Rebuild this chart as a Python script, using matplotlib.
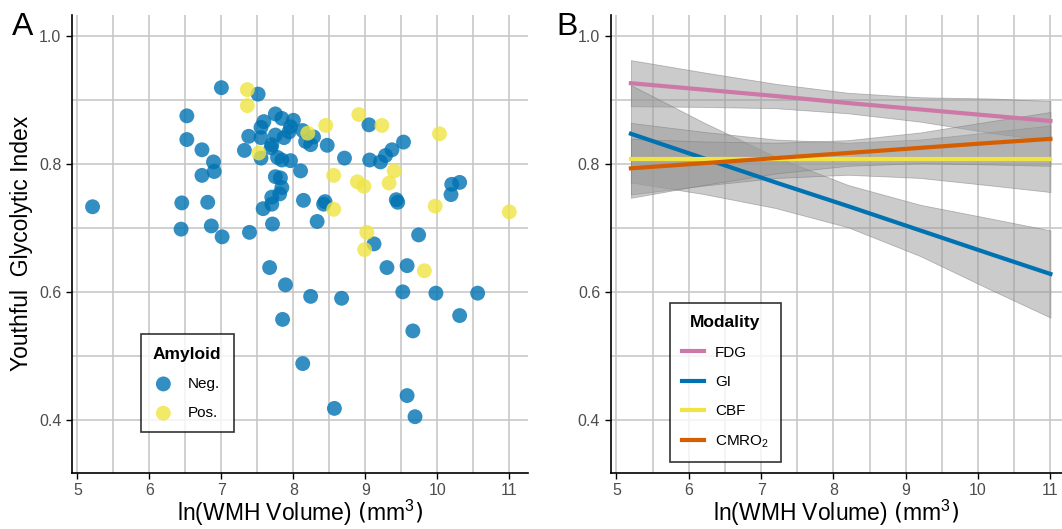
import matplotlib.pyplot as plt
from matplotlib.ticker import MultipleLocator
from matplotlib.lines import Line2D

plt.rcParams['font.family'] = ['Liberation Sans', 'DejaVu Sans']
plt.rcParams['mathtext.default'] = 'regular'

# ---- panel A: WMH volume vs youthful GI, split by amyloid status
neg_x = [5.21, 6.45, 6.44, 6.52, 6.52, 6.73, 6.73, 6.89, 6.90, 6.81, 6.86, 7.01, 7.00, 7.39,
         7.51, 7.32, 7.38, 7.55, 7.55, 7.59, 7.75, 7.84, 8.00, 7.96, 7.94, 7.87, 7.75, 7.70,
         7.69, 7.55, 7.78, 7.84, 7.96, 8.10, 7.75, 7.82, 7.84, 7.81, 7.70, 7.70, 7.58, 7.71,
         7.67, 7.89, 7.85, 8.13, 8.13, 8.28, 8.17, 8.24, 8.47, 8.14, 8.44, 8.42, 8.33, 8.71,
         9.05, 9.06, 9.21, 9.28, 9.37, 9.53, 9.43, 9.45, 9.12, 9.74, 9.30, 9.58, 8.24, 8.67,
         9.52, 9.98, 10.56, 10.31, 9.66, 9.58, 8.57, 9.69, 10.20, 10.31, 10.19]
neg_y = [0.733, 0.739, 0.698, 0.875, 0.838, 0.822, 0.782, 0.803, 0.788, 0.740, 0.703, 0.686,
         0.919, 0.693, 0.909, 0.821, 0.843, 0.841, 0.857, 0.866, 0.878, 0.871, 0.868, 0.858,
         0.850, 0.841, 0.845, 0.830, 0.825, 0.809, 0.810, 0.806, 0.805, 0.789, 0.780, 0.778,
         0.763, 0.753, 0.748, 0.737, 0.730, 0.706, 0.638, 0.611, 0.557, 0.488, 0.852, 0.842,
         0.835, 0.830, 0.829, 0.743, 0.741, 0.737, 0.710, 0.809, 0.861, 0.806, 0.803, 0.813,
         0.822, 0.834, 0.744, 0.740, 0.675, 0.689, 0.638, 0.641, 0.593, 0.590, 0.600, 0.598,
         0.598, 0.563, 0.539, 0.438, 0.418, 0.405, 0.768, 0.771, 0.752]
pos_x = [7.36, 7.36, 7.52, 8.20, 8.45, 8.56, 8.56, 8.91, 9.23, 10.03, 9.40, 8.89, 8.98,
         9.33, 9.97, 11.00, 9.02, 8.99, 9.82]
pos_y = [0.916, 0.891, 0.817, 0.848, 0.860, 0.782, 0.729, 0.877, 0.860, 0.847, 0.789, 0.772,
         0.765, 0.770, 0.734, 0.725, 0.693, 0.666, 0.633]

# ---- panel B: linear fits + 95% CI per modality
fit_x = [5.2, 6.2, 7.2, 8.2, 9.2, 10.2, 11.0]
modalities = ['FDG', 'GI', 'CBF', 'CMRO$_2$']
mod_colors = ['#CC79A7', '#0072B2', '#F0E442', '#D55E00']
fdg_fit = [0.926, 0.916, 0.906, 0.895, 0.885, 0.875, 0.867]
fdg_lo = [0.890, 0.889, 0.887, 0.879, 0.866, 0.848, 0.836]
fdg_hi = [0.962, 0.943, 0.925, 0.911, 0.904, 0.902, 0.898]
gi_fit = [0.847, 0.809, 0.771, 0.734, 0.696, 0.658, 0.628]
gi_lo = [0.771, 0.753, 0.731, 0.701, 0.656, 0.602, 0.560]
gi_hi = [0.923, 0.865, 0.811, 0.767, 0.736, 0.714, 0.696]
cbf_fit = [0.808, 0.808, 0.808, 0.808, 0.808, 0.808, 0.808]
cbf_lo = [0.752, 0.766, 0.778, 0.783, 0.778, 0.766, 0.756]
cbf_hi = [0.864, 0.850, 0.838, 0.833, 0.838, 0.850, 0.860]
cmro_fit = [0.793, 0.801, 0.809, 0.817, 0.825, 0.833, 0.839]
cmro_lo = [0.747, 0.767, 0.785, 0.797, 0.801, 0.799, 0.797]
cmro_hi = [0.839, 0.835, 0.833, 0.837, 0.849, 0.867, 0.881]

fig = plt.figure(figsize=(10.62, 5.29), dpi=100)
axA = fig.add_axes([0.0675, 0.1064, 0.4297, 0.8652])
axB = fig.add_axes([0.575, 0.1064, 0.425, 0.8652])


def style(ax, xmax):
    ax.set_xlim(4.92, xmax)
    ax.set_ylim(0.3175, 1.0325)
    ax.xaxis.set_major_locator(MultipleLocator(1))
    ax.xaxis.set_minor_locator(MultipleLocator(0.5))
    ax.yaxis.set_major_locator(MultipleLocator(0.2))
    ax.yaxis.set_minor_locator(MultipleLocator(0.1))
    ax.grid(True, which='both', color='#c4c4c4', lw=1.1)
    ax.set_axisbelow(True)
    for s in ['top', 'right']:
        ax.spines[s].set_visible(False)
    for s in ['left', 'bottom']:
        ax.spines[s].set_linewidth(1.2)
    ax.tick_params(which='major', length=4, width=1, labelsize=11.5, labelcolor='#4d4d4d')
    ax.tick_params(which='minor', length=0)
    ax.set_xlabel(r'ln(WMH Volume) $\left(mm^3\right)$', fontsize=16.5, labelpad=0)


style(axA, 11.26)
style(axB, 11.16)

# scatter
axA.scatter(neg_x, neg_y, s=115, color='#0072B2', alpha=0.8, edgecolors='none', label='Neg.')
axA.scatter(pos_x, pos_y, s=115, color='#F0E442', alpha=0.8, edgecolors='none', label='Pos.')
axA.set_ylabel('Youthful  Glycolytic Index', fontsize=16.5)
legA = axA.legend(title='Amyloid', loc='lower left', bbox_to_anchor=(0.151, 0.088),
                  fontsize=11, frameon=True, fancybox=False, edgecolor='black',
                  borderpad=0.8, labelspacing=1.0, handlelength=1.2, handletextpad=1.0,
                  borderaxespad=0)
legA.get_title().set_fontweight('bold')
legA.get_title().set_fontsize(12.5)
legA.get_frame().set_linewidth(1.2)

# fits
fits = [fdg_fit, gi_fit, cbf_fit, cmro_fit]
los = [fdg_lo, gi_lo, cbf_lo, cmro_lo]
his = [fdg_hi, gi_hi, cbf_hi, cmro_hi]
for lo, hi in zip(los, his):
    axB.fill_between(fit_x, lo, hi, facecolor='#999999', alpha=0.5,
                     edgecolor='#7a7a7a', lw=0.6, zorder=2)
handles = []
for name, fit, c in zip(modalities, fits, mod_colors):
    axB.plot(fit_x, fit, color=c, lw=3, zorder=3)
    handles.append(Line2D([], [], color=c, lw=3, label=name))
legB = axB.legend(handles=handles, title='Modality', loc='lower left',
                  bbox_to_anchor=(0.131, 0.023), fontsize=11, frameon=True, fancybox=False,
                  edgecolor='black', borderpad=0.8, labelspacing=1.0, handlelength=1.45,
                  handletextpad=0.7, borderaxespad=0)
legB.get_title().set_fontweight('bold')
legB.get_title().set_fontsize(12.5)
legB.get_frame().set_linewidth(1.2)

fig.text(0.011, 0.977, 'A', fontsize=23, va='top', ha='left')
fig.text(0.524, 0.977, 'B', fontsize=23, va='top', ha='left')

fig.savefig('out.png', dpi=100)
